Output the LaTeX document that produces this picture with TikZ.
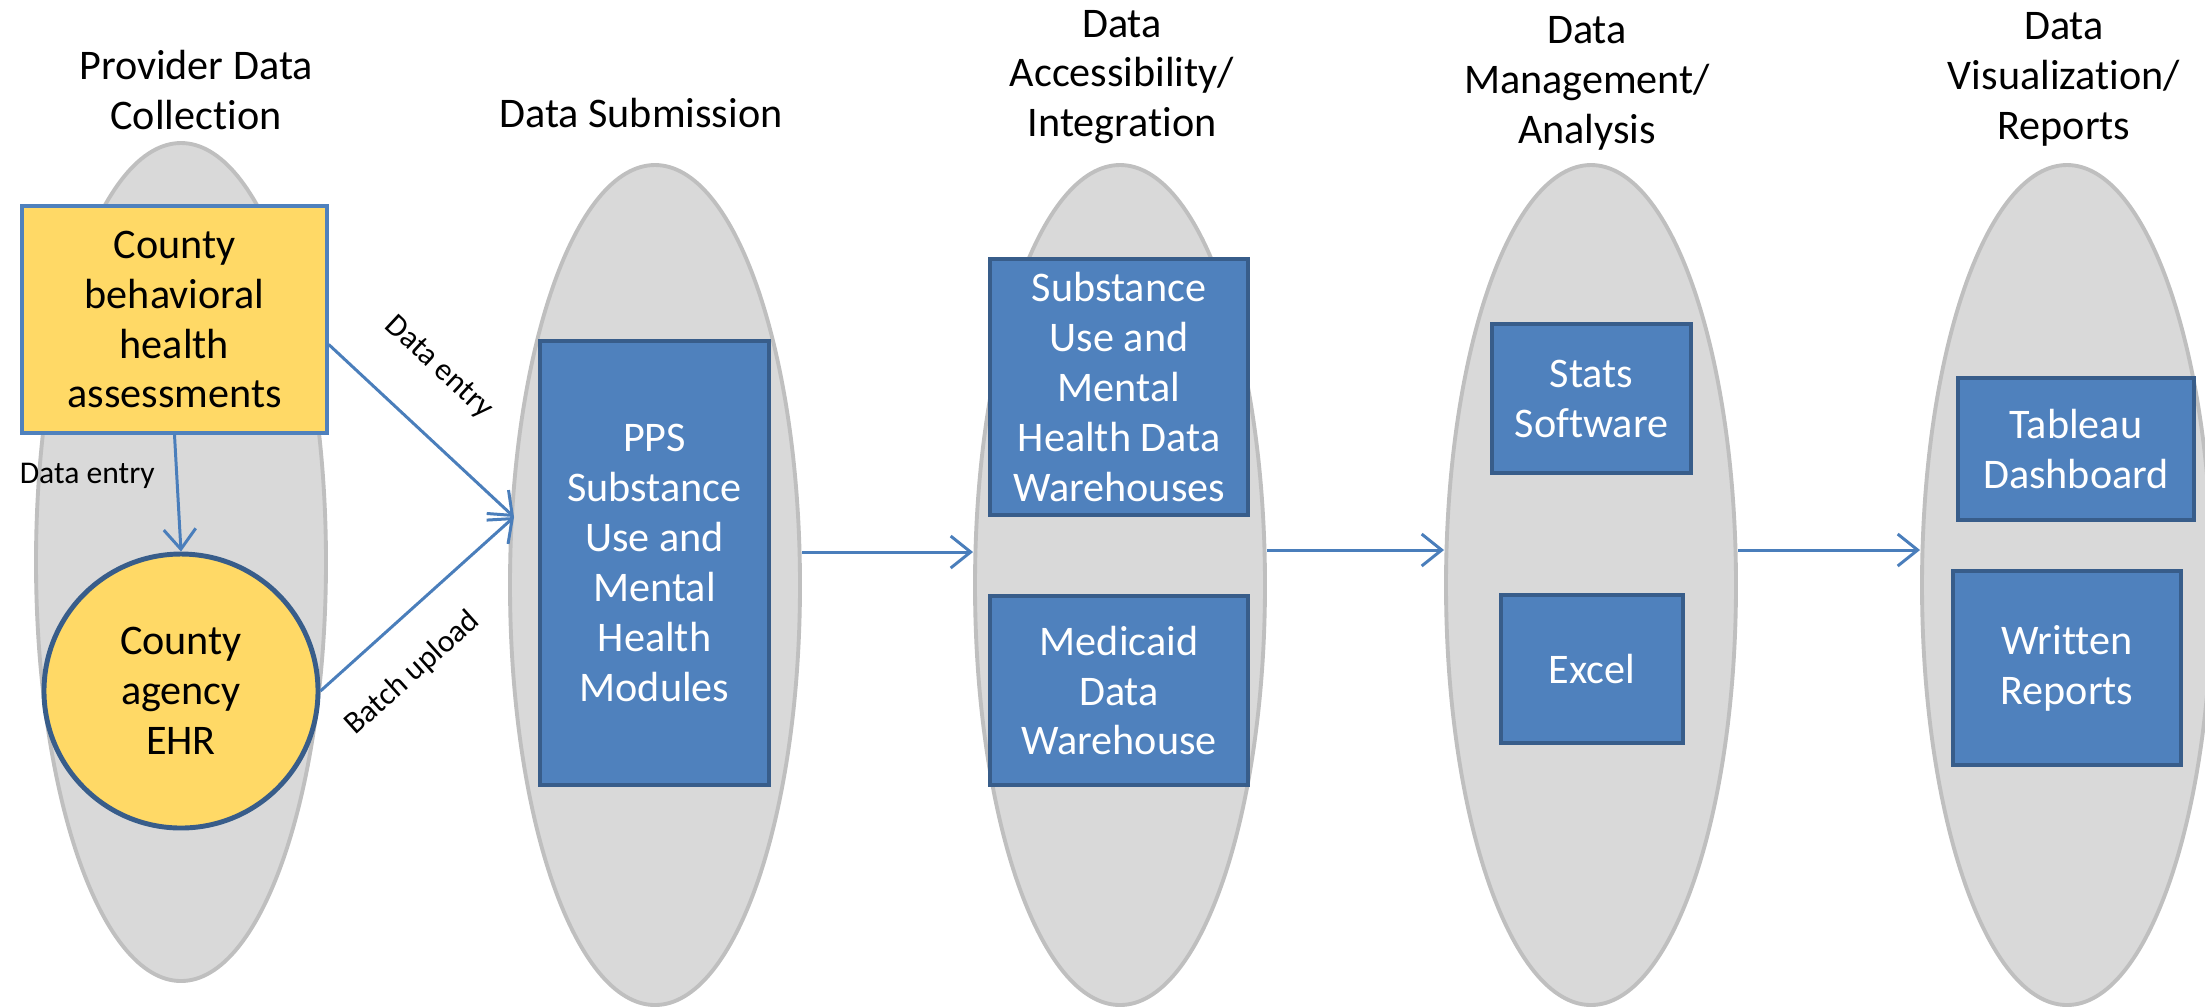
\documentclass[tikz,border=0pt]{standalone}
\usepackage{fontspec}
\setmainfont{Carlito}[Ligatures=NoCommon]
\usepackage{tikz}
\usepackage{xcolor}
\usetikzlibrary{positioning,arrows.meta,shapes.geometric}

\definecolor{stagefill}{HTML}{D9D9D9}
\definecolor{stageline}{HTML}{BFBFBF}
\definecolor{boxfill}{HTML}{4F81BD}
\definecolor{boxline}{HTML}{385D8A}
\definecolor{ehrfill}{HTML}{FFD966}
\definecolor{flowline}{HTML}{4A7EBB}

\tikzset{
	stage/.style={ellipse,fill=stagefill,draw=stageline,line width=1.1pt,minimum width=2.9cm,minimum height=8.4cm,inner sep=0pt},
	stagetitle/.style={align=center,font=\fontsize{12}{14.2}\selectfont},
	bluebox/.style={rectangle,fill=boxfill,draw=boxline,line width=1.4pt,text=white,align=center,inner sep=0pt,font=\fontsize{12}{14.2}\selectfont},
	yellowbox/.style={rectangle,fill=ehrfill,draw=boxfill,line width=1pt,align=center,inner sep=0pt,font=\fontsize{12}{14.2}\selectfont},
	ehrcircle/.style={circle,fill=ehrfill,draw=boxline,line width=1.4pt,align=center,inner sep=0pt,font=\fontsize{12}{14.2}\selectfont},
	flow/.style={->,draw=flowline,line width=0.85pt},
	smalllabel/.style={font=\fontsize{9}{11}\selectfont,inner sep=1pt},
	>={Straight Barb[length=2mm,width=3.2mm]}
}

\begin{document}
\begin{tikzpicture}
				\useasboundingbox (0,0) rectangle (22.05,-10.06);
				% stages
				\node[stage,minimum height=8.38cm] (collect) at (1.81,-5.62) {};
				\node[stage] (submit) at (6.55,-5.85) {};
				\node[stage] (access) at (11.20,-5.85) {};
				\node[stage] (manage) at (15.91,-5.85) {};
				\node[stage] (report) at (20.67,-5.85) {};
				\node[stagetitle] (collecttitle) at (1.96,-0.90) {Provider Data\\Collection};
				\node[stagetitle] (submittitle) at (6.41,-1.13) {Data Submission};
				\node[stagetitle] (accesstitle) at (11.22,-0.77) {Data\\Accessibility/\\Integration};
				\node[stagetitle] (managetitle) at (15.87,-0.83) {Data\\Management/\\Analysis};
				\node[stagetitle] (reporttitle) at (20.64,-0.79) {Data\\Visualization/\\Reports};
				% boxes
				\node[yellowbox,minimum width=3.05cm,minimum height=2.27cm] (assess) at (1.745,-3.195) {County\\behavioral\\health\\assessments};
				\node[ehrcircle,minimum size=2.74cm] (ehr) at (1.81,-6.91) {County\\agency\\EHR};
				\node[bluebox,minimum width=2.29cm,minimum height=4.44cm] (pps) at (6.545,-5.63) {PPS\\Substance\\Use and\\Mental\\Health\\Modules};
				\node[bluebox,minimum width=2.58cm,minimum height=2.56cm] (warehouses) at (11.19,-3.87) {Substance\\Use and\\Mental\\Health Data\\Warehouses};
				\node[bluebox,minimum width=2.58cm,minimum height=1.89cm] (medicaid) at (11.19,-6.905) {Medicaid\\Data\\Warehouse};
				\node[bluebox,minimum width=1.99cm,minimum height=1.49cm] (stats) at (15.915,-3.985) {Stats\\Software};
				\node[bluebox,minimum width=1.82cm,minimum height=1.48cm] (excel) at (15.92,-6.69) {Excel};
				\node[bluebox,minimum width=2.36cm,minimum height=1.42cm] (tableau) at (20.76,-4.49) {Tableau\\Dashboard};
				\node[bluebox,minimum width=2.28cm,minimum height=1.94cm] (written) at (20.67,-6.68) {Written\\Reports};
				% arrows
				\coordinate []  (merge) at (5.14,-5.17);
				\draw[flow] (assess.south) -- node[smalllabel,left=1.7mm,pos=0.35] {Data entry} (ehr.north);
				\draw[flow] ([yshift=-2.5mm]assess.east) -- node[smalllabel,sloped,above=4mm,pos=0.38] {Data entry} (merge);
				\draw[flow] (ehr.east) -- node[smalllabel,sloped,below=3mm,pos=0.31] {Batch upload} (merge);
				\draw[flow] ([yshift=3.3mm]submit.east) -- ([yshift=3.3mm]access.west);
				\draw[flow] ([yshift=3.5mm]access.east) -- ([yshift=3.5mm]manage.west);
				\draw[flow] ([yshift=3.5mm]manage.east) -- ([yshift=3.5mm]report.west);
\end{tikzpicture}
\end{document}
